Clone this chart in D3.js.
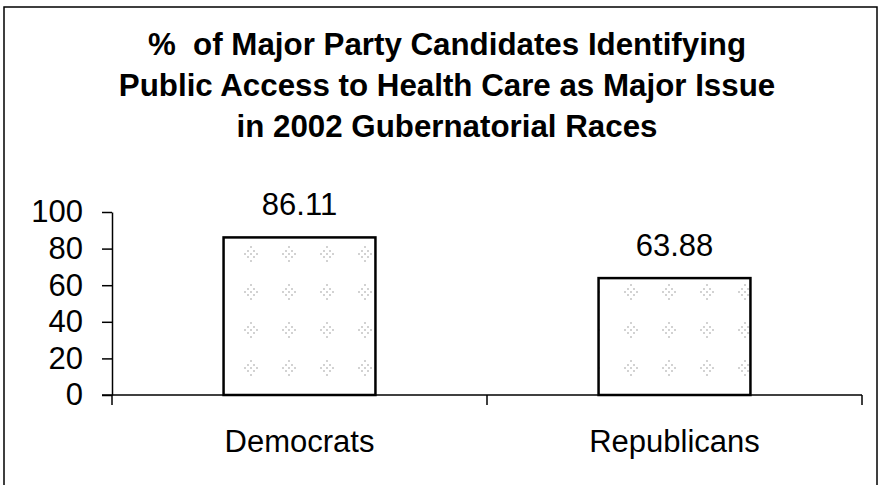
<!DOCTYPE html>
<html>
<head>
<meta charset="utf-8">
<script src="https://cdn.jsdelivr.net/npm/d3@7"></script>
<style>
  body { margin: 0; background: #fff; }
  svg text { font-family: "Liberation Sans", Arial, sans-serif; fill: #000; white-space: pre; }
</style>
</head>
<body>
<script>
const width = 882;
const height = 485;

const categories = ["Democrats", "Republicans"];
const values = [86.11, 63.88];
const yTicks = [0, 20, 40, 60, 80, 100];
const titleLines = [
    "%  of Major Party Candidates Identifying",
    "Public Access to Health Care as Major Issue",
    "in 2002 Gubernatorial Races"
];

const plot = { left: 112, right: 862, top: 212, bottom: 395 };

const svg = d3.select("body")
    .append("svg")
    .attr("width", width)
    .attr("height", height);

// faint speckle pattern inside the bars
const defs = svg.append("defs");
const pat = defs.append("pattern")
    .attr("id", "speckle")
    .attr("patternUnits", "userSpaceOnUse")
    .attr("x", 4)
    .attr("y", 7)
    .attr("width", 38)
    .attr("height", 38);
pat.append("rect").attr("width", 38).attr("height", 38).attr("fill", "#fff");
[[19, 12], [19, 26], [13, 19], [25, 19], [19, 19], [16, 16], [22, 22], [22, 16], [16, 22]].forEach(p => {
    pat.append("circle")
        .attr("cx", p[0]).attr("cy", p[1])
        .attr("r", 1)
        .attr("fill", "#c4c4c4");
});

// outer frame
svg.append("rect")
    .attr("x", 4)
    .attr("y", 7)
    .attr("width", 873)
    .attr("height", 490)
    .attr("fill", "none")
    .attr("stroke", "#000")
    .attr("stroke-width", 1.5);

svg.append("g")
    .selectAll("text")
    .data(titleLines)
    .enter()
    .append("text")
    .attr("x", 447)
    .attr("y", (d, i) => 55 + i * 41)
    .attr("text-anchor", "middle")
    .attr("font-size", 31.3)
    .attr("font-weight", "bold")
    .text(d => d);

const x = d3.scaleBand()
    .domain(categories)
    .range([plot.left, plot.right])
    .padding(0);

const y = d3.scaleLinear()
    .domain([0, 100])
    .range([plot.bottom, plot.top]);

const barW = x.bandwidth() * 0.405;

const g = svg.append("g");

// bars
g.selectAll("rect.bar")
    .data(values)
    .enter()
    .append("rect")
    .attr("class", "bar")
    .attr("x", (d, i) => x(categories[i]) + (x.bandwidth() - barW) / 2)
    .attr("y", d => y(d))
    .attr("width", barW)
    .attr("height", d => y(0) - y(d))
    .attr("fill", "url(#speckle)")
    .attr("stroke", "#000")
    .attr("stroke-width", 2.5);

// value labels
g.selectAll("text.val")
    .data(values)
    .enter()
    .append("text")
    .attr("class", "val")
    .attr("x", (d, i) => x(categories[i]) + x.bandwidth() / 2)
    .attr("y", d => y(d) - 22)
    .attr("text-anchor", "middle")
    .attr("font-size", 31)
    .text(d => d.toFixed(2));

// y axis
const yAxis = g.append("g")
    .attr("transform", `translate(${plot.left},0)`)
    .call(d3.axisLeft(y).tickValues(yTicks).tickSize(10).tickPadding(19).tickSizeOuter(0));
yAxis.select(".domain").attr("stroke", "#000").attr("stroke-width", 1.5);
yAxis.selectAll(".tick line").attr("stroke", "#000").attr("stroke-width", 1.5);
yAxis.selectAll(".tick text")
    .attr("font-size", 31)
    .attr("font-family", "'Liberation Sans', Arial, sans-serif")
    .attr("fill", "#000");

// x axis with ticks at category boundaries
const xAxis = g.append("g")
    .attr("transform", `translate(0,${plot.bottom})`);
xAxis.append("line")
    .attr("x1", plot.left - 10)
    .attr("x2", plot.right)
    .attr("stroke", "#000")
    .attr("stroke-width", 1.5);
const bounds = categories.map(c => x(c)).concat([x.range()[1]]);
xAxis.selectAll("line.tk")
    .data(bounds)
    .enter()
    .append("line")
    .attr("class", "tk")
    .attr("x1", d => d)
    .attr("x2", d => d)
    .attr("y1", 0)
    .attr("y2", 10)
    .attr("stroke", "#000")
    .attr("stroke-width", 1.5);
xAxis.selectAll("text")
    .data(categories)
    .enter()
    .append("text")
    .attr("x", d => x(d) + x.bandwidth() / 2)
    .attr("y", 57)
    .attr("text-anchor", "middle")
    .attr("font-size", 31)
    .text(d => d);
</script>
</body>
</html>
